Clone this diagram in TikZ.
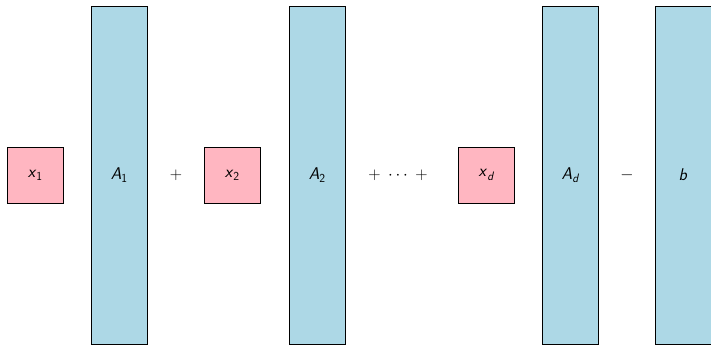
\documentclass[tikz,border=0pt]{standalone}
\usepackage{graphicx}
\definecolor{vecpink}{RGB}{255,182,193}
\definecolor{matblue}{RGB}{173,216,230}
\newcommand\symsub[2]{\textit{#1}\raisebox{-0.45ex}{\scalebox{0.72}{#2}}}
\begin{document}
\begin{tikzpicture}[x=0.0357143cm,y=-0.0357143cm,
  vecbox/.style={draw=black,line width=0.6pt,fill=vecpink,minimum width=2cm,minimum height=2cm,inner sep=0pt,font=\LARGE\sffamily},
  matbox/.style={draw=black,line width=0.6pt,fill=matblue,minimum width=2cm,minimum height=12.07cm,inner sep=0pt,font=\LARGE\sffamily},
  op/.style={inner sep=0pt,font=\LARGE}]
\useasboundingbox (0,0) rectangle (711,345);
\node[vecbox] (x1) at (35,175) {\symsub{x}{\upshape 1}};
\node[matbox] (A1) at (119,175) {\symsub{A}{\upshape 1}};
\node[op] (p1) at (176,175) {$+$};
\node[vecbox] (x2) at (232,175) {\symsub{x}{\upshape 2}};
\node[matbox] (A2) at (317,175) {\symsub{A}{\upshape 2}};
\node[op] (p2) at (398,175) {$+\;\cdots\;+$};
\node[vecbox] (xd) at (486,175) {\symsub{x}{\itshape d}};
\node[matbox] (Ad) at (570,175) {\symsub{A}{\itshape d}};
\node[op] (m1) at (627,175) {$-$};
\node[matbox] (b) at (683,175) {\textit{b}};
\end{tikzpicture}
\end{document}
